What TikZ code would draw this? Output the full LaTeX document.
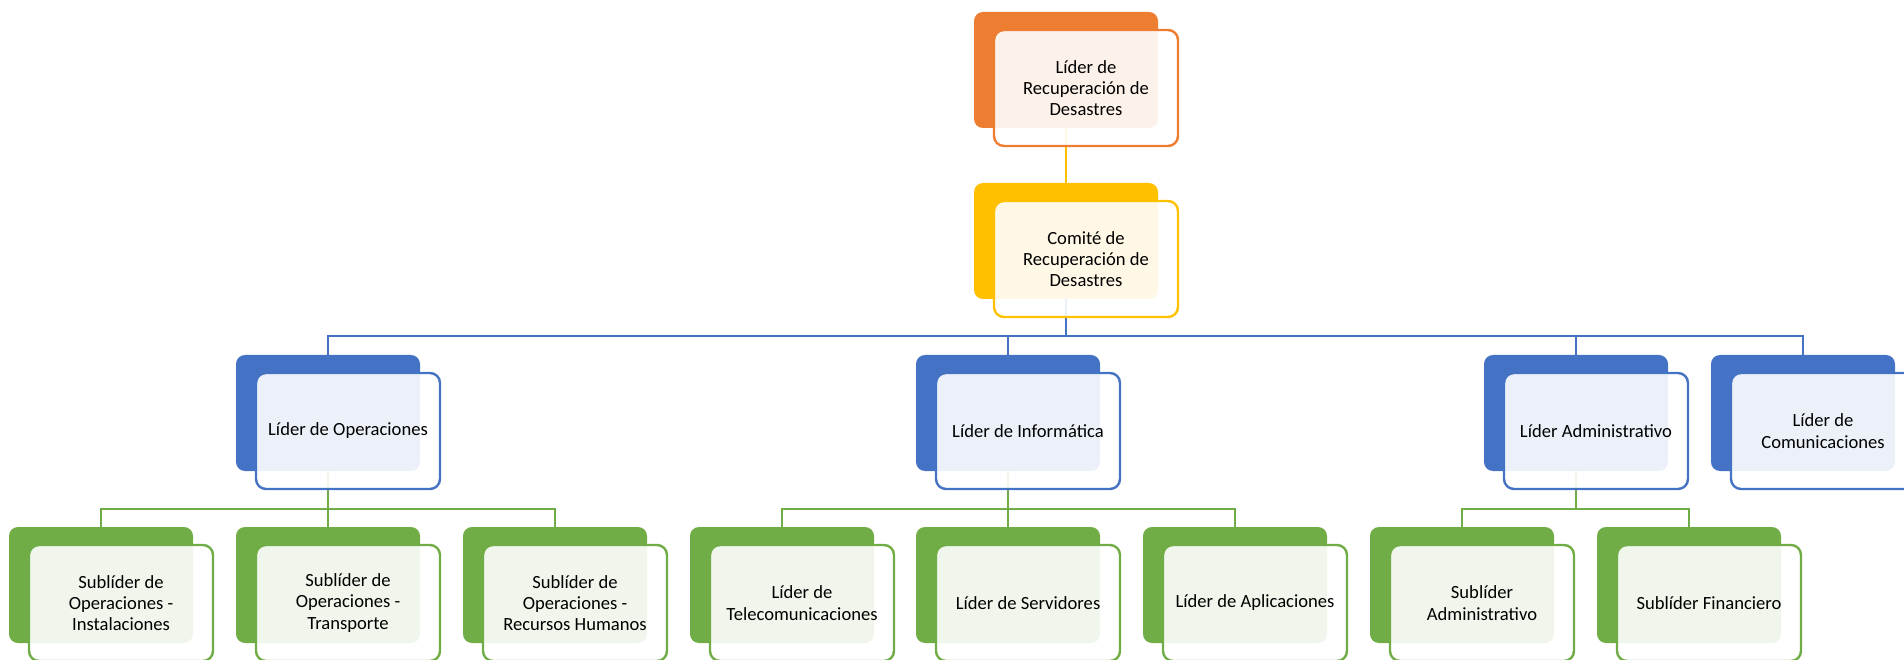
\documentclass[tikz,border=0pt]{standalone}
\usepackage{fontspec}
\setmainfont{Carlito}
\definecolor{cOrange}{HTML}{ED7D31}
\definecolor{cYellow}{HTML}{FFC000}
\definecolor{cBlue}{HTML}{4472C4}
\definecolor{cGreen}{HTML}{70AD47}
\begin{document}
\begin{tikzpicture}[x=1pt,y=-1pt,
  back/.style={rounded corners=9pt, minimum width=184pt, minimum height=116pt, inner sep=0pt, fill=#1},
  front/.style={draw=#1, line width=2.4pt, rounded corners=10pt, fill=white, fill opacity=0.9, text opacity=1,
    minimum width=184pt, minimum height=116pt, inner sep=0pt, align=center,
    font=\fontsize{18.6}{21.3}\selectfont, text=black},
  conn/.style={draw=#1, line width=2.2pt}]
\useasboundingbox (0,0) rectangle (1904,660);
\clip (0,0) rectangle (1904,660);
% back blocks
\node[back=cOrange] (b1) at (1066,70) {};
\node[back=cYellow] (b2) at (1066,241) {};
\node[back=cBlue] (bo) at (328,413) {};
\node[back=cBlue] (bi) at (1008,413) {};
\node[back=cBlue] (ba) at (1576,413) {};
\node[back=cBlue] (bc) at (1803,413) {};
\node[back=cGreen] (s1) at (101,585) {};
\node[back=cGreen] (s2) at (328,585) {};
\node[back=cGreen] (s3) at (555,585) {};
\node[back=cGreen] (s4) at (782,585) {};
\node[back=cGreen] (s5) at (1008,585) {};
\node[back=cGreen] (s6) at (1235,585) {};
\node[back=cGreen] (s7) at (1462,585) {};
\node[back=cGreen] (s8) at (1689,585) {};
% connectors
\draw[conn=cYellow] (b1.south) -- (b2.north);
\foreach \c in {bo,bi,ba,bc} \draw[conn=cBlue] (b2.south) -- ++(0,37) -| (\c.north);
\foreach \c in {s1,s2,s3} \draw[conn=cGreen] (bo.south) -- ++(0,38) -| (\c.north);
\foreach \c in {s4,s5,s6} \draw[conn=cGreen] (bi.south) -- ++(0,38) -| (\c.north);
\foreach \c in {s7,s8} \draw[conn=cGreen] (ba.south) -- ++(0,38) -| (\c.north);
% front blocks
\node[front=cOrange] (f1) at ([shift={(20,18)}]b1.center) {Líder de\\Recuperación de\\Desastres};
\node[front=cYellow] (f2) at ([shift={(20,18)}]b2.center) {Comité de\\Recuperación de\\Desastres};
\node[front=cBlue] (fo) at ([shift={(20,18)}]bo.center) {Líder de Operaciones};
\node[front=cBlue] (fi) at ([shift={(20,18)}]bi.center) {Líder de Informática};
\node[front=cBlue] (fa) at ([shift={(20,18)}]ba.center) {Líder Administrativo};
\node[front=cBlue] (fc) at ([shift={(20,18)}]bc.center) {Líder de\\Comunicaciones};
\node[front=cGreen] (g1) at ([shift={(20,18)}]s1.center) {Sublíder de\\Operaciones -\\Instalaciones};
\node[front=cGreen] (g2) at ([shift={(20,18)}]s2.center) {Sublíder de\\Operaciones -\\Transporte};
\node[front=cGreen] (g3) at ([shift={(20,18)}]s3.center) {Sublíder de\\Operaciones -\\Recursos Humanos};
\node[front=cGreen] (g4) at ([shift={(20,18)}]s4.center) {Líder de\\Telecomunicaciones};
\node[front=cGreen] (g5) at ([shift={(20,18)}]s5.center) {Líder de Servidores};
\node[front=cGreen] (g6) at ([shift={(20,18)}]s6.center) {Líder de Aplicaciones};
\node[front=cGreen] (g7) at ([shift={(20,18)}]s7.center) {Sublíder\\Administrativo};
\node[front=cGreen] (g8) at ([shift={(20,18)}]s8.center) {Sublíder Financiero};
\end{tikzpicture}
\end{document}
